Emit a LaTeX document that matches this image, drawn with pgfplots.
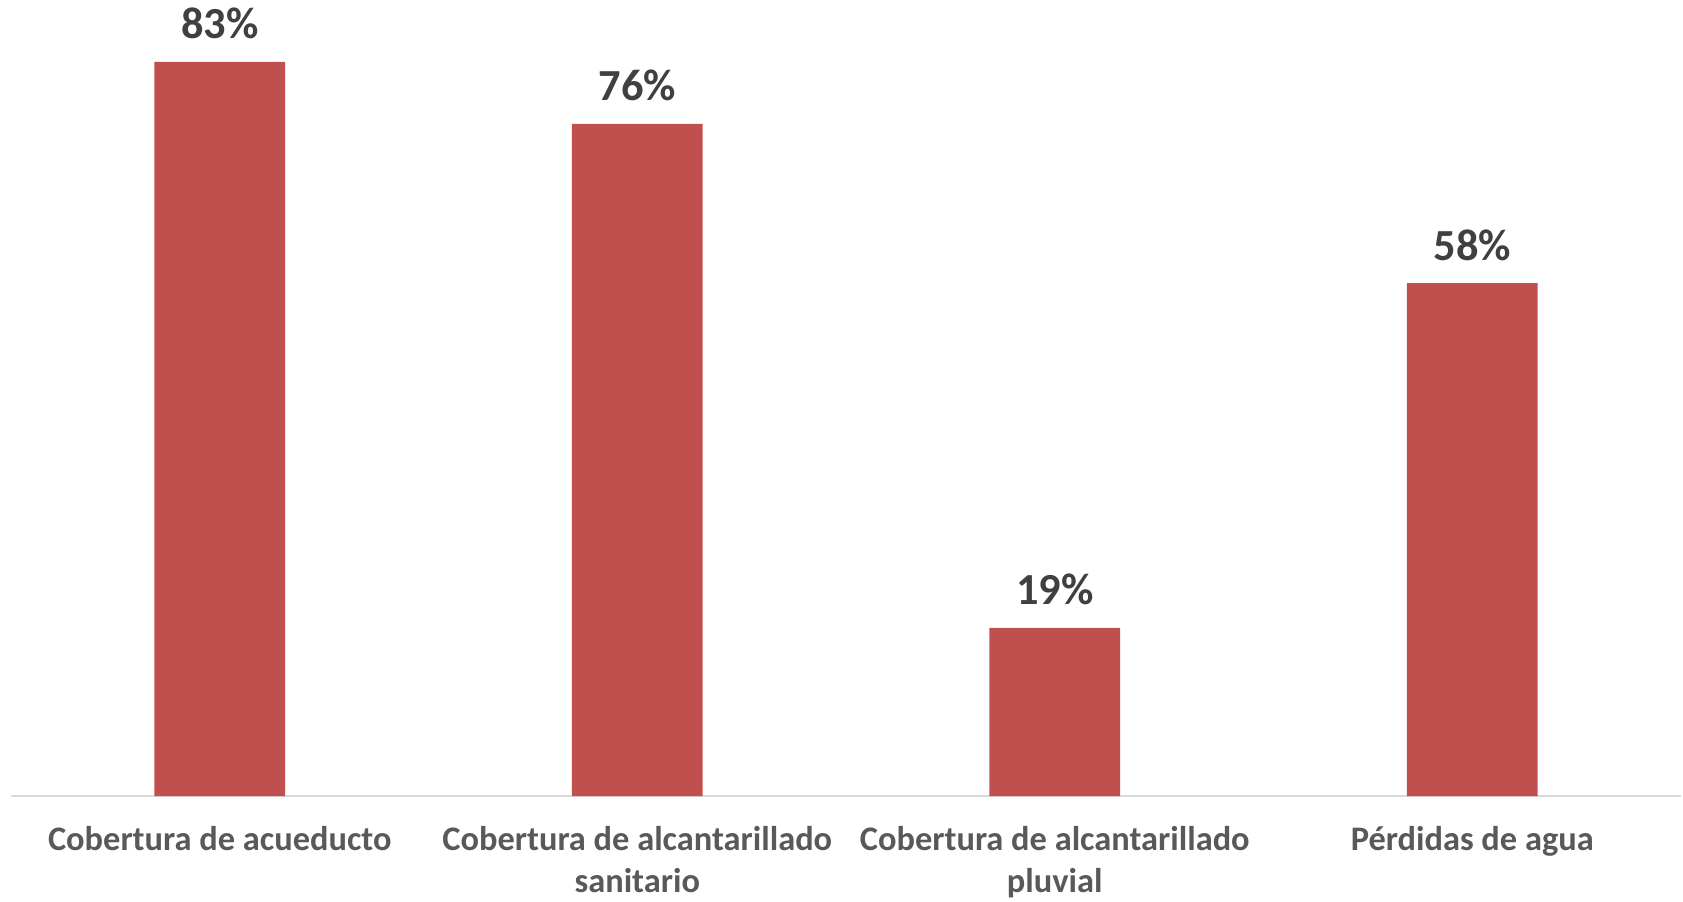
\documentclass[border=0pt]{standalone}
\usepackage{fontspec}
\setmainfont{Carlito}
\usepackage{pgfplots}
\pgfplotsset{compat=1.18}
\definecolor{barred}{HTML}{C0504D}
\definecolor{ticktxt}{HTML}{595959}
\definecolor{valtxt}{HTML}{404040}
\definecolor{axisgray}{HTML}{D9D9D9}
\begin{document}
\begin{tikzpicture}
\useasboundingbox (0,0) rectangle (841.5pt,450.5pt);
\begin{axis}[
  at={(5.5pt,52.5pt)}, anchor=south west,
  scale only axis, width=835pt, height=398pt,
  xmin=-0.5, xmax=3.5, ymin=0, ymax=90,
  enlargelimits=false,
  hide y axis,
  axis x line*=bottom,
  x axis line style={draw=axisgray, line width=1.3pt, -},
  xtick=data,
  xticklabels={{Cobertura de acueducto\\\mbox{}}, {Cobertura de alcantarillado\\sanitario}, {Cobertura de alcantarillado\\pluvial}, {Pérdidas de agua\\\mbox{}}},
  major tick length=0pt,
  /pgf/number format/assume math mode=true,
  xticklabel style={anchor=north, inner sep=0pt, yshift=-14.95pt, align=center, text=ticktxt, font=\fontsize{17.2pt}{21pt}\selectfont\bfseries, execute at begin node=\strut},
  ybar, bar width=65.3pt,
  nodes near coords={\pgfmathprintnumber{\pgfplotspointmeta}\%},
  nodes near coords style={anchor=base, yshift=11.5pt, text=valtxt, font=\fontsize{22.2pt}{26pt}\selectfont\bfseries},
]
\addplot[fill=barred, draw=none] coordinates {(0,83) (1,76) (2,19) (3,58)};
\end{axis}
\end{tikzpicture}
\end{document}
